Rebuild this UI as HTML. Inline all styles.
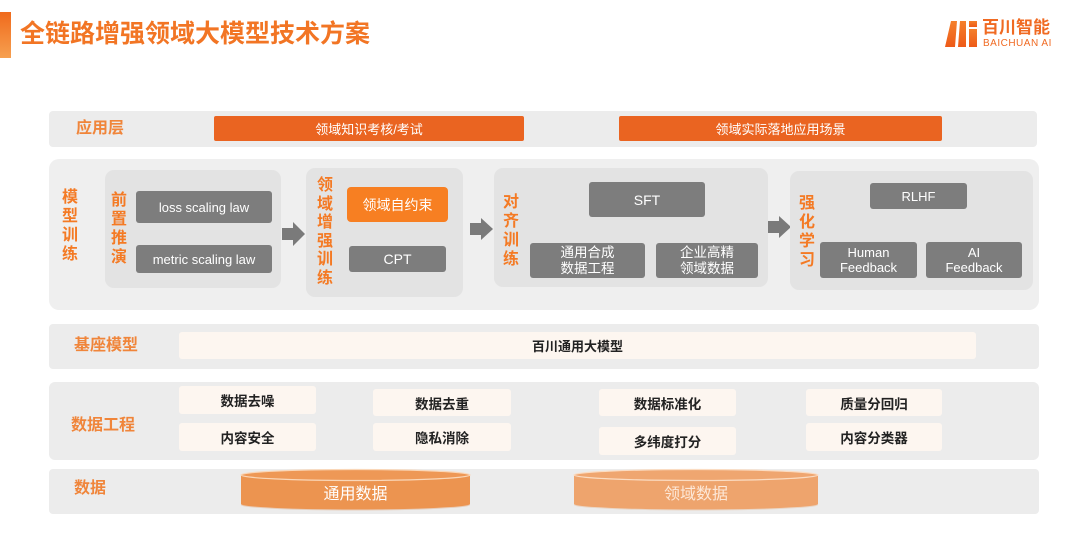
<!DOCTYPE html>
<html><head><meta charset="utf-8">
<style>
*{margin:0;padding:0;box-sizing:border-box}
body{width:1080px;height:542px;background:#fff;position:relative;overflow:hidden;font-family:"Liberation Sans","Noto Sans CJK SC",sans-serif}
.a{position:absolute}
.b{position:absolute;display:flex;align-items:center;justify-content:center;text-align:center}
.row{position:absolute;background:#ececec;border-radius:4px}
.lbl{position:absolute;color:#f0853a;font-weight:bold;font-size:16px;line-height:18px;white-space:nowrap}
.vl{position:absolute;color:#f47a24;font-weight:bold;font-size:16px;width:18px;text-align:center}
.sub{position:absolute;background:#e3e3e3;border-radius:9px}
.g{background:#7d7d7d;color:#fff;border-radius:3px;font-size:13px}
.cr{background:#fdf6f0;color:#222;font-weight:bold;font-size:13.5px;border-radius:3px}
.ob{background:#ea6421;color:#fff;font-size:13px;border-radius:2px}
</style></head><body>

<!-- title -->
<div class="a" style="left:0;top:12px;width:11px;height:46px;background:linear-gradient(180deg,#f06a1c,#f6a050)"></div>
<div class="a" style="left:20px;top:21px;font-size:25px;line-height:26px;font-weight:bold;color:#f27524;white-space:nowrap">全链路增强领域大模型技术方案</div>

<!-- logo -->
<svg class="a" style="left:0;top:0" width="1080" height="60">
<defs><linearGradient id="lg" x1="0" y1="0" x2="0" y2="1"><stop offset="0" stop-color="#f4802c"/><stop offset="1" stop-color="#ee5a18"/></linearGradient></defs>
<polygon points="951,21 957,21 955,47 945,47" fill="url(#lg)"/>
<polygon points="960,21 966,21 966,47 958,47" fill="url(#lg)"/>
<rect x="969" y="21" width="8" height="6" fill="url(#lg)"/>
<rect x="969" y="29" width="8" height="18" fill="url(#lg)"/>
</svg>
<div class="a" style="left:982px;top:18px;font-size:17px;line-height:20px;font-weight:bold;color:#f06a22;white-space:nowrap">百川智能</div>
<div class="a" style="left:983px;top:38px;font-size:10px;line-height:11px;color:#f06a22;letter-spacing:0.5px;white-space:nowrap">BAICHUAN AI</div>

<!-- app layer -->
<div class="row" style="left:49px;top:111px;width:988px;height:36px"></div>
<div class="lbl" style="left:76px;top:120px">应用层</div>
<div class="b ob" style="left:214px;top:116px;width:310px;height:25px">领域知识考核/考试</div>
<div class="b ob" style="left:619px;top:116px;width:323px;height:25px">领域实际落地应用场景</div>

<!-- model training -->
<div class="a" style="left:49px;top:159px;width:990px;height:151px;background:#efefef;border-radius:10px"></div>
<div class="vl" style="left:61px;top:188px;line-height:19px">模<br>型<br>训<br>练</div>

<div class="sub" style="left:105px;top:170px;width:176px;height:118px"></div>
<div class="vl" style="left:110px;top:191px;line-height:19px">前<br>置<br>推<br>演</div>
<div class="b g" style="left:136px;top:191px;width:136px;height:32px">loss scaling law</div>
<div class="b g" style="left:136px;top:245px;width:136px;height:28px">metric scaling law</div>

<svg class="a" style="left:0;top:0" width="1080" height="300">
<g fill="#7a7a7a">
<rect x="282" y="228" width="12" height="12"/><polygon points="293,222 305,234 293,246"/>
<rect x="470" y="223" width="12" height="12"/><polygon points="481,218 493,229 481,240"/>
<rect x="768" y="221" width="12" height="12"/><polygon points="779,216 791,227 779,238"/>
<rect x="644" y="229" width="8" height="9"/><polygon points="638,230 648,219 658,230"/>
<rect x="917" y="229" width="8" height="9"/><polygon points="911,230 921,219 931,230"/>
</g>
</svg>

<div class="sub" style="left:306px;top:168px;width:157px;height:129px"></div>
<div class="vl" style="left:316px;top:177px;line-height:18.5px">领<br>域<br>增<br>强<br>训<br>练</div>
<div class="b" style="left:347px;top:187px;width:101px;height:35px;background:#f77f22;color:#fff;font-size:14px;border-radius:4px">领域自约束</div>
<div class="b g" style="left:349px;top:246px;width:97px;height:26px;font-size:14px">CPT</div>

<div class="sub" style="left:494px;top:168px;width:274px;height:119px"></div>
<div class="vl" style="left:502px;top:193px;line-height:19px">对<br>齐<br>训<br>练</div>
<div class="b g" style="left:589px;top:182px;width:116px;height:35px;font-size:14px">SFT</div>
<div class="b g" style="left:530px;top:243px;width:115px;height:35px;font-size:13.5px;line-height:16px">通用合成<br>数据工程</div>
<div class="b g" style="left:656px;top:243px;width:102px;height:35px;font-size:13.5px;line-height:16px">企业高精<br>领域数据</div>

<div class="sub" style="left:790px;top:171px;width:243px;height:119px"></div>
<div class="vl" style="left:798px;top:194px;line-height:19px">强<br>化<br>学<br>习</div>
<div class="b g" style="left:870px;top:183px;width:97px;height:26px">RLHF</div>
<div class="b g" style="left:820px;top:242px;width:97px;height:36px;line-height:15px">Human<br>Feedback</div>
<div class="b g" style="left:926px;top:242px;width:96px;height:36px;line-height:15px">AI<br>Feedback</div>

<!-- base model -->
<div class="row" style="left:49px;top:324px;width:990px;height:45px"></div>
<div class="lbl" style="left:74px;top:337px">基座模型</div>
<div class="b cr" style="left:179px;top:332px;width:797px;height:27px;font-size:13px">百川通用大模型</div>

<!-- data engineering -->
<div class="row" style="left:49px;top:382px;width:990px;height:78px;border-radius:6px"></div>
<div class="lbl" style="left:71px;top:417px">数据工程</div>
<div class="b cr" style="left:179px;top:386px;width:137px;height:28px">数据去噪</div>
<div class="b cr" style="left:179px;top:423px;width:137px;height:28px">内容安全</div>
<div class="b cr" style="left:373px;top:389px;width:138px;height:27px">数据去重</div>
<div class="b cr" style="left:373px;top:423px;width:138px;height:28px">隐私消除</div>
<div class="b cr" style="left:599px;top:389px;width:137px;height:27px">数据标准化</div>
<div class="b cr" style="left:599px;top:427px;width:137px;height:28px">多纬度打分</div>
<div class="b cr" style="left:806px;top:389px;width:136px;height:27px">质量分回归</div>
<div class="b cr" style="left:806px;top:423px;width:136px;height:28px">内容分类器</div>

<!-- data -->
<div class="row" style="left:49px;top:469px;width:990px;height:45px"></div>
<div class="lbl" style="left:74px;top:480px">数据</div>
<svg class="a" style="left:0;top:460px" width="1080" height="60">
<g>
<ellipse cx="355.5" cy="45" rx="114.5" ry="5.5" fill="#e3b08a" opacity="0.5"/>
<rect x="241" y="15" width="229" height="29" fill="#ec9450"/>
<ellipse cx="355.5" cy="44" rx="114.5" ry="5.5" fill="#ec9450"/>
<ellipse cx="355.5" cy="15" rx="114.5" ry="5.5" fill="#ee9856" stroke="#fad7b8" stroke-width="1.2"/>
</g>
<g>
<ellipse cx="696" cy="45" rx="122" ry="5.5" fill="#e8c0a0" opacity="0.5"/>
<rect x="574" y="15" width="244" height="29" fill="#eea46d"/>
<ellipse cx="696" cy="44" rx="122" ry="5.5" fill="#eea46d"/>
<ellipse cx="696" cy="15" rx="122" ry="5.5" fill="#efa670" stroke="#fbdcc2" stroke-width="1.2"/>
</g>
</svg>
<div class="b" style="left:241px;top:481px;width:229px;height:22px;color:#fff;font-size:16px">通用数据</div>
<div class="b" style="left:574px;top:481px;width:244px;height:22px;color:#fde8d8;font-size:16px">领域数据</div>

</body></html>
